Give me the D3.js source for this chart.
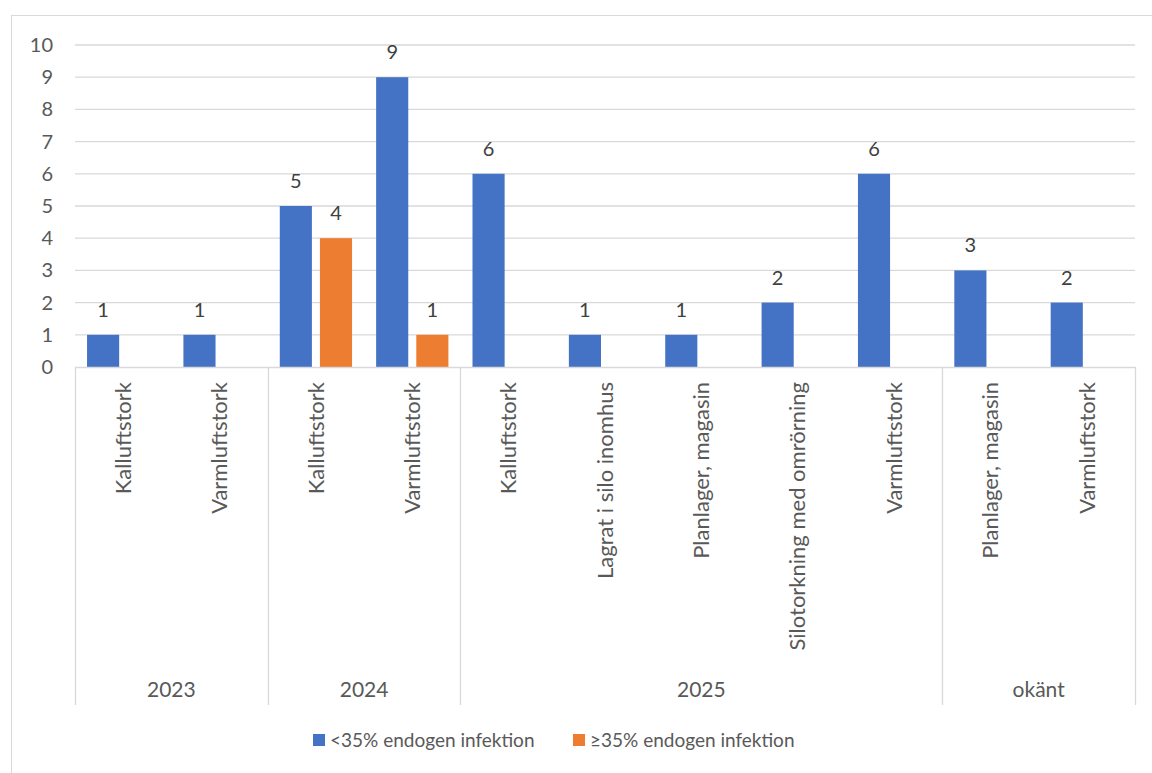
<!DOCTYPE html>
<html>
<head>
<meta charset="utf-8">
<script src="https://cdn.jsdelivr.net/npm/d3@7"></script>
<style>
  html, body { margin: 0; padding: 0; background: #fff; }
  svg text { font-family: Lato, "Open Sans", sans-serif; }
</style>
</head>
<body>
<svg id="chart" width="1152" height="773"></svg>
<script>
const categories = ["Kalluftstork","Varmluftstork","Kalluftstork","Varmluftstork","Kalluftstork","Lagrat i silo inomhus","Planlager, magasin","Silotorkning med omrörning","Varmluftstork","Planlager, magasin","Varmluftstork"];
const groupOf = ["2023","2023","2024","2024","2025","2025","2025","2025","2025","okänt","okänt"];
const groupNames = ["2023","2024","2025","okänt"];
const seriesNames = ["<35% endogen infektion","≥35% endogen infektion"];
const seriesLow = [1,1,5,9,6,1,1,2,6,3,2];
const seriesHigh = [null,null,4,1,null,null,null,null,null,null,null];
const yTicks = [0,1,2,3,4,5,6,7,8,9,10];
const colors = ["#4472C4","#ED7D31"];

const svg = d3.select("#chart");
const L = 75, R = 1135, Y0 = 367, Y10 = 45;
const grid = "#d9d9d9", txt = "#595959";

// outer border
svg.append("rect").attr("x", 11.5).attr("y", 15.5).attr("width", 1160).attr("height", 800)
  .attr("fill", "none").attr("stroke", grid).attr("stroke-width", 1);

const idx = categories.map((d, i) => i);
const x0 = d3.scaleBand().domain(idx).range([L, R]).paddingInner(0).paddingOuter(0);
const x1 = d3.scaleBand().domain([0, 1]).range([0, x0.bandwidth()]).paddingInner(0.2).paddingOuter(0.3);
const y = d3.scaleLinear().domain([0, 10]).range([Y0, Y10]);

// gridlines
svg.append("g").selectAll("line").data(yTicks.filter(t => t > 0)).join("line")
  .attr("x1", L).attr("x2", R)
  .attr("y1", d => y(d)).attr("y2", d => y(d))
  .attr("stroke", grid).attr("stroke-width", 1.3);

// y axis labels
const yAxis = d3.axisLeft(y).tickValues(yTicks).tickSize(0).tickPadding(0);
const gy = svg.append("g").attr("transform", `translate(${53},0)`).call(yAxis);
gy.select(".domain").remove();
gy.selectAll("text").attr("fill", txt).style("font-size", "20px").style("font-family", "Lato, sans-serif");

// bars
const data = [];
idx.forEach(i => {
  [seriesLow[i], seriesHigh[i]].forEach((v, s) => {
    if (v !== null) data.push({ i, s, v });
  });
});
svg.append("g").selectAll("rect").data(data).join("rect")
  .attr("x", d => x0(d.i) + x1(d.s))
  .attr("width", x1.bandwidth())
  .attr("y", d => y(d.v))
  .attr("height", d => y(0) - y(d.v))
  .attr("fill", d => colors[d.s]);

// data labels
svg.append("g").selectAll("text").data(data).join("text")
  .attr("x", d => x0(d.i) + x1(d.s) + x1.bandwidth() / 2)
  .attr("y", d => y(d.v) - 18)
  .attr("text-anchor", "middle")
  .attr("fill", "#404040")
  .style("font-size", "20px")
  .text(d => d.v);

// category axis baseline
svg.append("line").attr("x1", L).attr("x2", R).attr("y1", Y0 + 0.5).attr("y2", Y0 + 0.5)
  .attr("stroke", grid).attr("stroke-width", 1.3);

// vertical separators (left, group boundaries, right)
const boundaries = [0];
groupNames.forEach(g => { boundaries.push(groupOf.lastIndexOf(g) + 1); });
svg.append("g").selectAll("line").data(boundaries).join("line")
  .attr("x1", b => Math.round(b < categories.length ? x0(b) : R) + 0.5)
  .attr("x2", b => Math.round(b < categories.length ? x0(b) : R) + 0.5)
  .attr("y1", Y0).attr("y2", 705)
  .attr("stroke", grid).attr("stroke-width", 1.3);

// rotated category labels
svg.append("g").selectAll("text").data(idx).join("text")
  .attr("transform", i => `translate(${x0(i) + x0.bandwidth() / 2},382) rotate(-90)`)
  .attr("text-anchor", "end")
  .attr("dy", "0.35em")
  .attr("fill", txt)
  .style("font-size", "22px")
  .text(i => categories[i]);

// group labels
svg.append("g").selectAll("text").data(groupNames).join("text")
  .attr("x", g => {
    const a = groupOf.indexOf(g), b = groupOf.lastIndexOf(g) + 1;
    const xa = x0(a), xb = b < categories.length ? x0(b) : R;
    return (xa + xb) / 2;
  })
  .attr("y", 697)
  .attr("text-anchor", "middle")
  .attr("fill", txt)
  .style("font-size", "21px")
  .text(g => g);

// legend
const legX = [313, 573];
const lg = svg.append("g").selectAll("g").data(seriesNames).join("g")
  .attr("transform", (d, i) => `translate(${legX[i]},734)`);
lg.append("rect").attr("width", 12).attr("height", 12).attr("fill", (d, i) => colors[i]);
lg.append("text").attr("x", 17).attr("y", 6).attr("dy", "0.35em")
  .attr("fill", txt).style("font-size", "19px").text(d => d);
</script>
</body>
</html>
